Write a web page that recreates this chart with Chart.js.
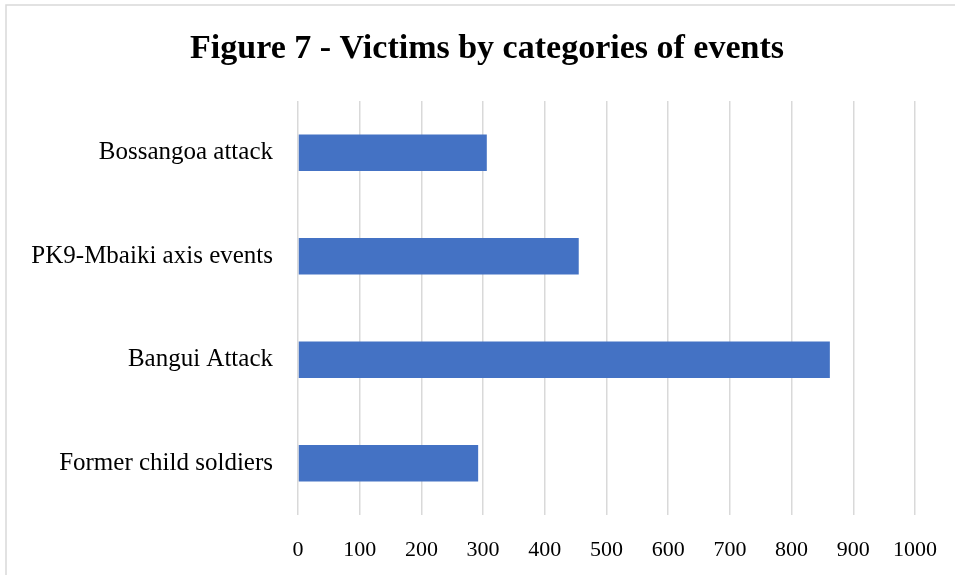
<!DOCTYPE html>
<html>
<head>
<meta charset="utf-8">
<title>Figure 7 - Victims by categories of events</title>
<script src="https://cdn.jsdelivr.net/npm/chart.js@4.4.1/dist/chart.umd.min.js"></script>
<style>
    html, body { margin: 0; padding: 0; background: #fff; overflow: hidden; }
    #wrap { position: relative; width: 955px; height: 575px; }
</style>
</head>
<body>
<div id="wrap"><canvas id="chart" width="955" height="575"></canvas></div>
<script>
// Data
const chartTitle = 'Figure 7 - Victims by categories of events';
const categories = ['Bossangoa attack', 'PK9-Mbaiki axis events', 'Bangui Attack', 'Former child soldiers'];
const victims = [306, 455, 862, 292];
const xTicks = [0, 100, 200, 300, 400, 500, 600, 700, 800, 900, 1000];

const serif = "'Liberation Serif', 'DejaVu Serif', serif";

// frame + title drawn by hand so the title can sit where the original has it
const framePlugin = {
    id: 'frame',
    beforeDraw(chart) {
        const ctx = chart.ctx;
        ctx.save();
        ctx.strokeStyle = '#d9d9d9';
        ctx.lineWidth = 1.5;
        ctx.beginPath();
        ctx.moveTo(6, chart.height);
        ctx.lineTo(6, 5);
        ctx.lineTo(chart.width, 5);
        ctx.stroke();
        ctx.restore();
    },
    afterDraw(chart) {
        const ctx = chart.ctx;
        ctx.save();
        ctx.font = 'bold 34px ' + serif;
        ctx.fillStyle = '#000';
        ctx.textAlign = 'center';
        ctx.textBaseline = 'middle';
        ctx.fillText(chartTitle, 487, 49);
        ctx.restore();
    }
};

new Chart(document.getElementById('chart'), {
    type: 'bar',
    data: {
        labels: categories,
        datasets: [{
            label: 'Victims',
            data: victims,
            backgroundColor: '#4472c4',
            barPercentage: 0.355,
            categoryPercentage: 1.0
        }]
    },
    options: {
        indexAxis: 'y',
        responsive: false,
        animation: false,
        layout: { padding: { top: 101, right: 40, bottom: 0, left: 0 } },
        plugins: { legend: { display: false }, tooltip: { enabled: false }, title: { display: false } },
        scales: {
            x: {
                min: 0, max: 1000,
                afterBuildTicks: scale => { scale.ticks = xTicks.map(v => ({ value: v })); },
                afterFit: scale => { scale.height = 60; scale.paddingRight = 0; scale.paddingLeft = 0; },
                grid: { color: '#d9d9d9', lineWidth: 1.5, drawTicks: false },
                border: { display: false },
                ticks: {
                    color: '#000', font: { family: serif, size: 22 }, padding: 22,
                    callback: v => String(v)
                }
            },
            y: {
                afterFit: scale => { scale.width = 298; },
                grid: { display: false },
                border: { display: false },
                ticks: { color: '#000', font: { family: serif, size: 25 }, padding: 17 }
            }
        }
    },
    plugins: [framePlugin]
});
</script>
</body>
</html>
